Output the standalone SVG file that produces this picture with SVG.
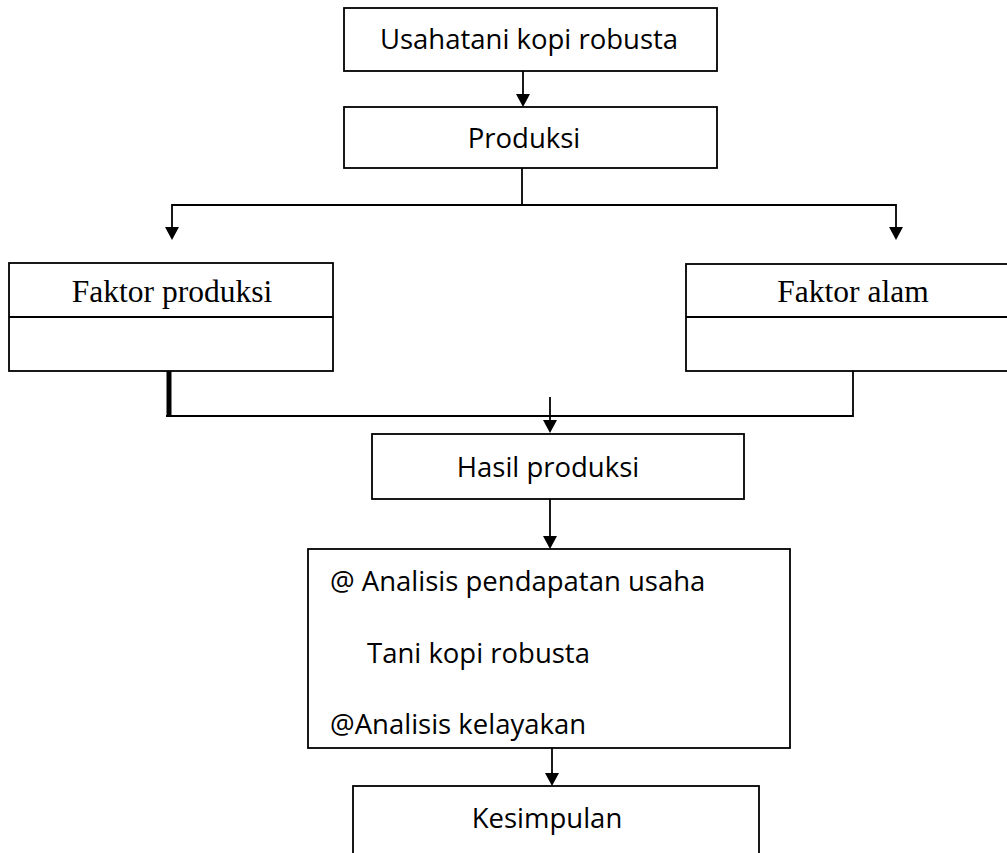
<svg xmlns="http://www.w3.org/2000/svg" width="1007" height="853" viewBox="0 0 1007 853">
<style>
.box{fill:#fff;stroke:#000;stroke-width:1.8}
.ln{fill:none;stroke:#000;stroke-width:1.8}
.sans{font-family:"Open Sans","Noto Sans",sans-serif;font-size:27.5px;fill:#000}
.serif{font-family:"Liberation Serif","Times New Roman",serif;font-size:31.5px;fill:#000}
.c{text-anchor:middle}
</style>
<g id="connectors">
<line class="ln" x1="523" y1="71" x2="523" y2="94"/>
<path d="M516,94 L530,94 L523,107 Z"/>
<line class="ln" x1="522" y1="168" x2="522" y2="205"/>
<polyline class="ln" points="172,228 172,205 896,205 896,228"/>
<path d="M165,227 L179,227 L172,240 Z"/>
<path d="M889,227 L903,227 L896,240 Z"/>
<line x1="169" y1="371" x2="169" y2="416" stroke="#000" stroke-width="5"/>
<polyline class="ln" points="166,416 853,416 853,371"/>
<line class="ln" x1="550" y1="397" x2="550" y2="421"/>
<path d="M543,420 L557,420 L550,433 Z"/>
<line class="ln" x1="550" y1="499" x2="550" y2="537"/>
<path d="M543,536 L557,536 L550,549 Z"/>
<line class="ln" x1="552" y1="748" x2="552" y2="774"/>
<path d="M545,773 L559,773 L552,786 Z"/>
</g>
<g id="n1">
<rect class="box" x="344" y="8" width="373" height="63"/>
<text class="sans c" x="529" y="49">Usahatani kopi robusta</text>
</g>
<g id="n2">
<rect class="box" x="344" y="107" width="373" height="61"/>
<text class="sans c" x="524" y="148">Produksi</text>
</g>
<g id="n3">
<rect class="box" x="9" y="263" width="324" height="108"/>
<line class="ln" x1="9" y1="317" x2="333" y2="317"/>
<text class="serif c" x="172" y="302">Faktor produksi</text>
</g>
<g id="n4">
<rect class="box" x="686" y="264" width="330" height="107"/>
<line class="ln" x1="686" y1="317" x2="1016" y2="317"/>
<text class="serif c" x="853" y="302">Faktor alam</text>
</g>
<g id="n5">
<rect class="box" x="372" y="434" width="372" height="65"/>
<text class="sans c" x="548" y="477">Hasil produksi</text>
</g>
<g id="n6">
<rect class="box" x="308" y="549" width="482" height="199"/>
<text class="sans" x="330" y="591">@ Analisis pendapatan usaha</text>
<text class="sans" x="367" y="663">Tani kopi robusta</text>
<text class="sans" x="330" y="734">@Analisis kelayakan</text>
</g>
<g id="n7">
<rect class="box" x="353" y="786" width="406" height="80"/>
<text class="sans c" x="547" y="828">Kesimpulan</text>
</g>
</svg>
